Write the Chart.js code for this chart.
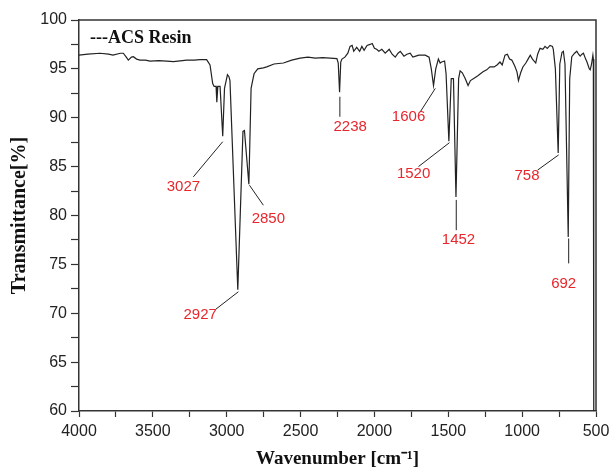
<!DOCTYPE html>
<html>
<head>
<meta charset="utf-8">
<title>ACS Resin FTIR</title>
<script src="https://cdn.jsdelivr.net/npm/chart.js@4"></script>
<style>
  html, body { margin: 0; padding: 0; background: #fff; }
  #wrap { width: 612px; height: 472px; position: relative; }
</style>
</head>
<body>
<div id="wrap"><canvas id="irChart" width="612" height="472"></canvas></div>
<script>
// spectrum (wavenumber in cm-1, transmittance in %)
const wavenumbers = [
  4000, 3940, 3858, 3800, 3770, 3720, 3700, 3680, 3666, 3645, 3632, 3610, 3587, 3550, 3519, 3460,
  3406, 3361, 3300, 3271, 3220, 3181, 3136, 3113, 3095, 3085, 3072, 3067, 3060, 3045, 3027, 3015,
  2995, 2985, 2978, 2925, 2890, 2880, 2850, 2835, 2815, 2790, 2752, 2729, 2680, 2616, 2560, 2503,
  2450, 2400, 2350, 2300, 2254, 2245, 2236, 2228, 2220, 2200, 2180, 2165, 2151, 2140, 2120, 2100,
  2085, 2070, 2050, 2030, 2015, 2000, 1985, 1970, 1950, 1927, 1900, 1880, 1859, 1840, 1825, 1800,
  1780, 1758, 1740, 1720, 1700, 1656, 1630, 1615, 1600, 1585, 1567, 1555, 1545, 1525, 1515, 1496,
  1480, 1465, 1448, 1430, 1420, 1405, 1385, 1366, 1350, 1320, 1300, 1265, 1240, 1218, 1190, 1170,
  1150, 1135, 1116, 1100, 1085, 1070, 1050, 1035, 1025, 1010, 995, 975, 960, 945, 930, 908,
  895, 879, 860, 845, 830, 811, 795, 789, 775, 756, 745, 730, 721, 710, 688, 678,
  664, 645, 630, 618, 607, 595, 585, 570, 561, 545, 539, 530, 521, 518, 515
];
const transmittance = [
  96.4, 96.5, 96.6, 96.5, 96.4, 96.6, 96.6, 96.2, 95.9, 96.2, 96.25, 96.0, 95.9, 95.9, 95.8, 95.85,
  95.8, 95.75, 95.85, 95.9, 95.9, 95.95, 95.95, 95.4, 93.5, 93.2, 93.2, 91.6, 93.2, 93.2, 88.1, 93.0,
  94.4, 94.2, 93.8, 72.4, 88.6, 88.7, 83.2, 93.0, 94.5, 95.0, 95.1, 95.2, 95.5, 95.6, 95.9, 96.1,
  96.2, 96.1, 96.15, 96.1, 96.05, 95.6, 92.6, 95.7, 96.0, 96.2, 96.6, 97.3, 97.4, 96.8, 97.2, 96.8,
  97.3, 96.9, 97.4, 97.5, 97.6, 97.1, 97.0, 96.8, 97.0, 96.6, 97.0, 96.5, 96.2, 96.6, 96.8, 96.3,
  96.5, 96.6, 96.2, 96.3, 96.4, 96.4, 96.2, 95.0, 93.3, 95.0, 96.0, 95.6, 95.7, 95.8, 94.5, 87.6,
  94.0, 94.0, 81.9, 94.0, 94.8, 94.6, 94.0, 93.3, 93.8, 94.1, 94.3, 94.7, 94.9, 95.2, 95.2, 95.4,
  95.7, 95.4, 96.4, 96.5, 96.0, 95.9, 95.3, 94.7, 93.8, 94.6, 95.2, 95.6, 96.0, 96.4, 96.0, 95.6,
  96.5, 97.1, 97.0, 97.3, 97.1, 97.4, 97.3, 97.0, 95.0, 86.4, 95.5, 96.7, 96.8, 95.5, 77.8, 94.0,
  96.25, 96.6, 96.8, 96.5, 96.3, 96.5, 96.6, 96.0, 95.7, 95.0, 94.9, 95.5, 96.4, 96.0, 55
];

// peak labels: text, leader line (from/to) and text centre, all in data units
const peakNames  = ['3027', '2850', '2927', '2238', '1606', '1520', '1452', '758', '692'];
const lineFromX  = [3027, 2846, 2921, 2234, 1588, 1492, 1446, 753, 685];
const lineFromY  = [87.55, 83.1, 72.2, 92.15, 93.0, 87.45, 81.6, 86.2, 77.65];
const lineToX    = [3226, 2752, 3079, 2234, 1690, 1702, 1446, 895, 685];
const lineToY    = [83.95, 81.05, 70.35, 90.1, 90.6, 85.0, 78.5, 84.65, 75.1];
const labelX     = [3293, 2718, 3180, 2164, 1769, 1735, 1431, 967, 719];
const labelY     = [82.95, 79.7, 69.8, 89.1, 90.05, 84.3, 77.5, 84.05, 73.0];

const xMin = 500, xMax = 4000;
const yMin = 60, yMax = 100;

const points = wavenumbers.map((w, i) => ({ x: w, y: transmittance[i] }));

// labels, leader lines, legend text and the top/right frame
const extrasPlugin = {
  id: 'extras',
  afterDatasetsDraw(chart) {
    const ctx = chart.ctx;
    const xs = chart.scales.x;
    const ys = chart.scales.y;
    const area = chart.chartArea;

    ctx.save();
    // frame top + right
    ctx.strokeStyle = '#333';
    ctx.lineWidth = 1.5;
    ctx.beginPath();
    ctx.moveTo(area.left, area.top);
    ctx.lineTo(area.right, area.top);
    ctx.lineTo(area.right, area.bottom);
    ctx.stroke();

    // leader lines
    ctx.strokeStyle = '#222';
    ctx.lineWidth = 1;
    peakNames.forEach((name, i) => {
      ctx.beginPath();
      ctx.moveTo(xs.getPixelForValue(lineFromX[i]), ys.getPixelForValue(lineFromY[i]));
      ctx.lineTo(xs.getPixelForValue(lineToX[i]), ys.getPixelForValue(lineToY[i]));
      ctx.stroke();
    });

    // peak numbers
    ctx.fillStyle = '#e8262c';
    ctx.font = '15px "Liberation Sans", Arial, sans-serif';
    ctx.textAlign = 'center';
    ctx.textBaseline = 'middle';
    peakNames.forEach((name, i) => {
      ctx.fillText(name, xs.getPixelForValue(labelX[i]), ys.getPixelForValue(labelY[i]));
    });

    // legend text
    ctx.fillStyle = '#111';
    ctx.font = 'bold 18px "Liberation Serif", "Times New Roman", serif';
    ctx.textAlign = 'left';
    ctx.fillText('---ACS Resin', area.left + 11, area.top + 18);
    ctx.restore();
  }
};

const ctx = document.getElementById('irChart').getContext('2d');
new Chart(ctx, {
  type: 'line',
  data: {
    datasets: [{
      label: 'ACS Resin',
      data: points,
      borderColor: '#222',
      borderWidth: 1.2,
      pointRadius: 0,
      tension: 0,
      fill: false
    }]
  },
  options: {
    responsive: false,
    animation: false,
    events: [],
    layout: { padding: { top: 20, right: 16, left: 0, bottom: 0 } },
    plugins: {
      legend: { display: false },
      tooltip: { enabled: false }
    },
    scales: {
      x: {
        type: 'linear',
        reverse: true,
        min: xMin,
        max: xMax,
        afterFit: (scale) => {
          scale.height = 61;
          scale.paddingLeft = 0;
          scale.paddingRight = 0;
        },
        ticks: {
          stepSize: 250,
          autoSkip: false,
          maxRotation: 0,
          padding: 5,
          color: '#222',
          font: { family: '"Liberation Sans", Arial, sans-serif', size: 16 },
          callback: (v) => (v % 500 === 0 ? v : '')
        },
        grid: { drawOnChartArea: false, drawTicks: true, tickLength: 6, tickColor: '#333', tickWidth: 1.2 },
        border: { display: true, color: '#333', width: 1.5 },
        title: {
          display: true,
          text: 'Wavenumber [cm\u207B\u00B9]',
          color: '#111',
          font: { family: '"Liberation Serif", "Times New Roman", serif', size: 19, weight: 'bold' },
          padding: { top: 0, bottom: 2 }
        }
      },
      y: {
        min: yMin,
        max: yMax,
        afterFit: (scale) => {
          scale.width = 79;
          scale.paddingTop = 0;
          scale.paddingBottom = 0;
        },
        ticks: {
          stepSize: 2.5,
          autoSkip: false,
          padding: 4,
          color: '#222',
          font: { family: '"Liberation Sans", Arial, sans-serif', size: 16 },
          callback: (v) => (v % 5 === 0 ? v : '')
        },
        grid: { drawOnChartArea: false, drawTicks: true, tickLength: 8, tickColor: '#333', tickWidth: 1.2 },
        border: { display: true, color: '#333', width: 1.5 },
        title: {
          display: true,
          text: 'Transmittance[%]',
          color: '#111',
          font: { family: '"Liberation Serif", "Times New Roman", serif', size: 20, weight: 'bold' },
          padding: { top: 8, bottom: 0 }
        }
      }
    }
  },
  plugins: [extrasPlugin]
});
</script>
</body>
</html>
